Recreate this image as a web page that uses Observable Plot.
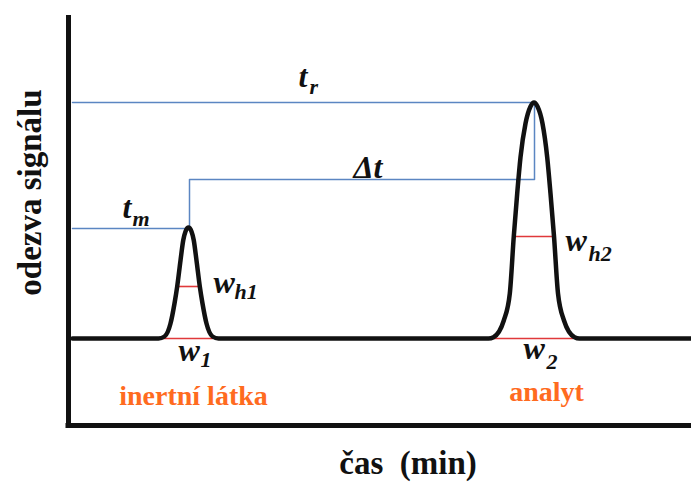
<!DOCTYPE html>
<html><head><meta charset="utf-8">
<script src="https://cdn.jsdelivr.net/npm/d3@7"></script>
<script src="https://cdn.jsdelivr.net/npm/@observablehq/plot@0.6"></script>
<style>body{margin:0;background:#fff}</style>
</head><body><div id="chart"></div>
<script>
// Chromatogram trace (time, detector signal)
const curveTime   = [0.4, 9.0, 9.6, 10.2, 10.6, 10.87, 11.2, 11.47, 11.7, 12.0, 12.3, 12.53, 12.8, 13.13, 13.4, 13.8, 14.4, 15.0,
                     42.0, 42.5, 43.53, 44.13, 44.53, 44.87, 45.2, 45.7, 46.2, 46.55, 46.9, 47.4, 47.87, 48.2, 48.55, 48.95, 49.55, 50.6, 51.1, 62.3];
const curveSignal = [8.7, 8.7, 8.9, 10.2, 12.2, 13.9, 16.5, 18.5, 19.4, 19.8, 19.4, 18.5, 16.5, 13.9, 12.2, 10.2, 8.9, 8.7,
                     8.7, 8.83, 10.5, 13.2, 18.93, 23.2, 26.83, 30.2, 31.9, 32.3, 31.9, 30.2, 26.83, 23.2, 18.93, 13.2, 10.5, 8.83, 8.7, 8.7];

// Blue construction lines (t_m, Δt, t_r)
const guideTime   = [0.4, 12.1, 12.1, 46.6, 46.6, 0.4, 46.6];
const guideSignal = [19.7, 19.7, 24.6, 24.6, 32.3, 32.3, 32.3];
const guideId     = ["a", "a", "a", "a", "a", "b", "b"];

// Red peak widths (w_h1, w_1, w_h2, w_2)
const widthLevel = [13.9, 8.7, 18.9, 8.7];
const widthStart = [10.7, 9.5, 44.5, 42.5];
const widthEnd   = [13.2, 14.5, 48.5, 50.5];

// Symbol labels: main letter and subscript
const symText  = ["t", "t", "w", "w", "w", "w"];
const symTime  = [23.0, 5.4, 14.5, 11.0, 49.7, 45.5];
const symSig   = [33.9, 20.8, 13.3, 6.5, 17.5, 6.7];
const subText  = ["r", "m", "h1", "1", "h2", "2"];
const subTime  = [24.1, 6.4, 16.6, 13.2, 52.0, 47.8];
const subSig   = [33.2, 20.0, 12.7, 5.9, 16.5, 5.7];
const deltaText = ["Δt"];
const deltaTime = [28.5];
const deltaSig  = [24.8];

// Substance names
const nameText = ["inertní látka", "analyt"];
const nameTime = [12.5, 47.8];
const nameSig  = [2.1, 2.5];

const serif = "'Liberation Serif', 'Times New Roman', serif";

const chart = Plot.plot({
  width: 691, height: 484,
  marginLeft: 68, marginRight: 0, marginTop: 15, marginBottom: 59,
  x: {domain: [0, 62.3], axis: null},
  y: {domain: [0, 41], axis: null},
  marks: [
    Plot.ruleY(widthLevel, {y: widthLevel, x1: widthStart, x2: widthEnd, stroke: "#e0393b", strokeWidth: 1.6}),
    Plot.line(guideTime, {x: guideTime, y: guideSignal, z: guideId, stroke: "#5b86c2", strokeWidth: 1.5}),
    Plot.line(curveTime, {x: curveTime, y: curveSignal, curve: "monotone-x", stroke: "#111", strokeWidth: 4.5, strokeLinejoin: "round"}),
    Plot.ruleX([0], {stroke: "#111", strokeWidth: 5}),
    Plot.ruleY([0], {x1: -0.25, x2: 62.3, stroke: "#111", strokeWidth: 5}),
    Plot.text(symText, {x: symTime, y: symSig, text: symText, textAnchor: "start", lineAnchor: "bottom",
      fontFamily: serif, fontSize: 32, fontWeight: "bold", fontStyle: "italic", fill: "#111"}),
    Plot.text(subText, {x: subTime, y: subSig, text: subText, textAnchor: "start", lineAnchor: "bottom",
      fontFamily: serif, fontSize: 22, fontWeight: "bold", fontStyle: "italic", fill: "#111"}),
    Plot.text(deltaText, {x: deltaTime, y: deltaSig, text: deltaText, textAnchor: "start", lineAnchor: "bottom",
      fontFamily: serif, fontSize: 32, fontWeight: "bold", fontStyle: "italic", fill: "#111"}),
    Plot.text(nameText, {x: nameTime, y: nameSig, text: nameText, textAnchor: "middle", lineAnchor: "bottom",
      fontFamily: serif, fontSize: 28, fontWeight: "bold", fill: "#ff6b1f"}),
    Plot.text(["odezva signálu"], {frameAnchor: "left", rotate: -90, dx: -38, dy: -28, textAnchor: "middle", lineAnchor: "middle",
      fontFamily: serif, fontSize: 33, fontWeight: "bold", fill: "#111"}),
    Plot.text(["čas  (min)"], {frameAnchor: "bottom", dx: 28, dy: 38, textAnchor: "middle", lineAnchor: "middle",
      fontFamily: serif, fontSize: 33, fontWeight: "bold", fill: "#111"})
  ]
});
chart.querySelectorAll("text").forEach(t => t.style.whiteSpace = "pre");
document.getElementById("chart").append(chart);
</script>
</body></html>
